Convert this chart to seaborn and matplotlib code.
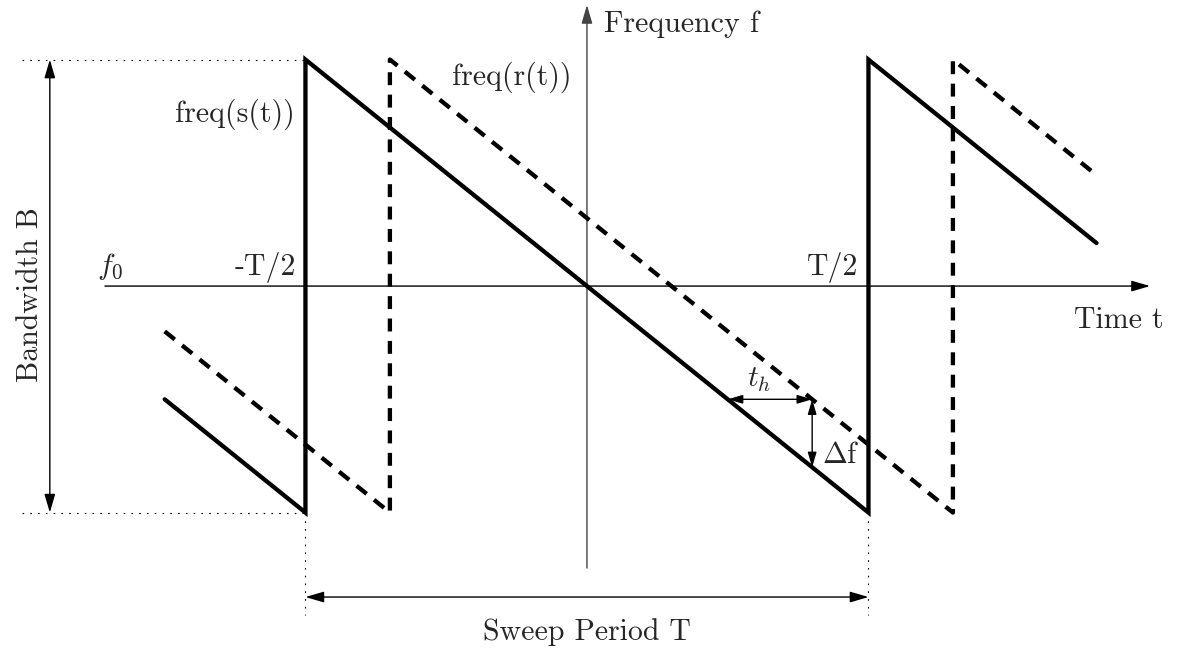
import matplotlib
matplotlib.use("Agg")
import matplotlib.pyplot as plt
import seaborn as sns
import pandas as pd

sns.set_style("white")
plt.rcParams["mathtext.fontset"] = "cm"
plt.rcParams["font.family"] = ["cmr10", "DejaVu Serif"]
plt.rcParams["axes.unicode_minus"] = False

# ---- data (t in units of T/2, f in units of B/2) ----
solid_t = [-1.5, -1.0, -1.0, 1.0, 1.0, 1.81]
solid_f = [-0.5, -1.0, 1.0, -1.0, 1.0, 0.19]
dashed_t = [-1.5, -0.7, -0.7, 1.3, 1.3, 1.805]
dashed_f = [-0.2, -1.0, 1.0, -1.0, 1.0, 0.495]
th_t = [0.5, 0.8]
th_f = -0.5
df_t = 0.8
df_f = [-0.5, -0.8]

FS = 21.5
LW = 3.1

fig = plt.figure(figsize=(11.77, 6.48), dpi=100)
ax = fig.add_axes([0, 0, 1, 1])
ax.set_xlim(-2.085, 2.096)
ax.set_ylim(-1.598, 1.263)
ax.axis("off")

solid = pd.DataFrame({"t": solid_t, "f": solid_f})
dashed = pd.DataFrame({"t": dashed_t, "f": dashed_f})
sns.lineplot(data=solid, x="t", y="f", sort=False, estimator=None, color="black",
             lw=LW, ax=ax, solid_joinstyle="miter", zorder=3)
sns.lineplot(data=dashed, x="t", y="f", sort=False, estimator=None, color="black",
             lw=LW, ax=ax, linestyle=(0, (3.0, 2.2)), zorder=3)

def arrow(x0, y0, x1, y1, both=False, color="black", lw=1.0, scale=15):
    style = "<|-|>" if both else "-|>"
    ax.annotate("", xy=(x1, y1), xytext=(x0, y0),
                arrowprops=dict(arrowstyle=style + ",head_length=0.75,head_width=0.22",
                                mutation_scale=scale, lw=lw, color=color,
                                shrinkA=0, shrinkB=0), zorder=2)

# axes
arrow(-1.712, 0, 2.0, 0)
arrow(0, -1.245, 0, 1.241, color="#444444")

# dotted guides
dot = dict(color="black", lw=0.8, linestyle=(0, (1.5, 5.5)))
ax.plot([-2.007, -1.0], [1.0, 1.0], **dot)
ax.plot([-2.007, -1.0], [-1.0, -1.0], **dot)
ax.plot([-1.0, -1.0], [-1.0, -1.452], **dot)
ax.plot([1.0, 1.0], [-1.0, -1.452], **dot)

# dimension arrows
arrow(-1.908, -1.0, -1.908, 1.0, both=True)
arrow(-1.0, -1.373, 1.0, -1.373, both=True)
arrow(th_t[0], th_f, th_t[1], th_f, both=True, scale=12)
arrow(df_t, df_f[0], df_t, df_f[1], both=True, scale=12)

def label(s, xy, off, ha="left", va="baseline", **kw):
    ax.annotate(s, xy=xy, xytext=off, textcoords="offset points",
                ha=ha, va=va, fontsize=FS, **kw)

label("Frequency f", (0, 1.241), (12, -19.4))
label("Time t", (2.0, 0), (9.4, -30), ha="right")
label(r"$f_0$", (-1.712, 0), (-6, 8.6))
label("-T/2", (-1, 0), (-7, 8), ha="right")
label("T/2", (1, 0), (-7, 8), ha="right")
label("freq(s(t))", (-1, 1), (-8, -45), ha="right")
label("freq(r(t))", (-0.7, 1), (44.6, -18))
label(r"$t_h$", (th_t[0], th_f), (13.7, 8.6))
label(r"$\Delta$f", (df_t, df_f[1]), (7, 3))
label("Bandwidth B", (-1.908, 0), (-14, -6), ha="center", va="center", rotation=90)
label("Sweep Period T", (0, -1.373), (0, -31), ha="center")

fig.savefig("out.png", dpi=100)
